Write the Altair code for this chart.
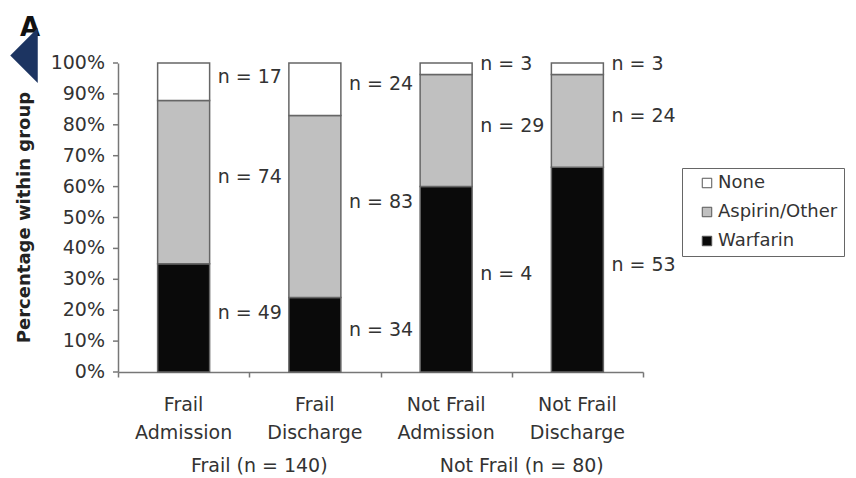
import altair as alt
import pandas as pd

categories = ["Frail Admission", "Frail Discharge", "Not Frail Admission", "Not Frail Discharge"]
warfarin_n = [49, 34, 48, 53]
aspirin_n = [74, 83, 29, 24]
none_n = [17, 24, 3, 3]
warfarin_lbl = ["n = 49", "n = 34", "n = 4", "n = 53"]
aspirin_lbl = ["n = 74", "n = 83", "n = 29", "n = 24"]
none_lbl = ["n = 17", "n = 24", "n = 3", "n = 3"]
series = ["None", "Aspirin/Other", "Warfarin"]
series_colors = ["#ffffff", "#c0c0c0", "#0a0a0a"]
groups = ["Frail (n = 140)", "Not Frail (n = 80)"]
group_anchor = ["Frail Admission", "Not Frail Admission"]
y_ticks = list(range(0, 101, 10))
y_title = ["Percentage within group"]

rows = []
for i, cat in enumerate(categories):
    total = warfarin_n[i] + aspirin_n[i] + none_n[i]
    lo = 0.0
    for s, counts, lbls in [("Warfarin", warfarin_n, warfarin_lbl),
                            ("Aspirin/Other", aspirin_n, aspirin_lbl),
                            ("None", none_n, none_lbl)]:
        pct = counts[i] / total * 100
        rows.append({"cat": cat, "series": s, "lo": round(lo, 3), "hi": round(lo + pct, 3),
                     "mid": round(lo + pct / 2, 3), "lbl": lbls[i]})
        lo += pct
df = pd.DataFrame(rows)
gdf = pd.DataFrame({"group": groups, "anchor": group_anchor})
cdf = pd.DataFrame({"cat": categories,
                    "line1": [c.rsplit(" ", 1)[0] for c in categories],
                    "line2": [c.rsplit(" ", 1)[1] for c in categories]})
tdf = pd.DataFrame({"v": y_ticks, "txt": [f"{v}%" for v in y_ticks]})

W, H = 525, 309
FONT = "DejaVu Sans"
TXT = "#333333"
AX = "#777777"

xscale = alt.Scale(domain=categories, paddingInner=0, paddingOuter=0)
yscale = alt.Scale(domain=[0, 100], nice=False)
xaxis = alt.Axis(labels=False, tickBand="extent", tickSize=5, tickColor=AX,
                 domainColor=AX, domainWidth=1.5, tickWidth=1.5)
yaxis = alt.Axis(labels=False, ticks=False, grid=False, title=None,
                 domainColor=AX, domainWidth=1.5)

bars = alt.Chart(df).mark_bar(width=52, stroke="#666666", strokeWidth=1.5).encode(
    x=alt.X("cat:N", sort=categories, scale=xscale, title=None, axis=xaxis),
    y=alt.Y("lo:Q", scale=yscale, title=None, axis=yaxis),
    y2="hi:Q",
    color=alt.Color("series:N", scale=alt.Scale(domain=series, range=series_colors),
                    legend=alt.Legend(orient="none", legendX=564, legendY=105, title=None,
                                      strokeColor="#666666", padding=6, fillColor="white",
                                      symbolType="square", symbolSize=90,
                                      symbolStrokeColor="#555555", symbolStrokeWidth=1,
                                      labelFontSize=18, labelColor=TXT, rowPadding=11,
                                      symbolOffset=10, labelOffset=2)),
)

labels = alt.Chart(df).mark_text(align="left", baseline="middle", dx=34, dy=-5,
                                 fontSize=19, color=TXT).encode(
    x=alt.X("cat:N", sort=categories, scale=xscale, title=None, axis=xaxis),
    y=alt.Y("mid:Q", scale=yscale, title=None, axis=yaxis),
    text="lbl:N",
)

ytick_marks = alt.Chart(tdf).mark_rule(color=AX, strokeWidth=1.5).encode(
    y=alt.Y("v:Q", scale=yscale, title=None, axis=yaxis),
    x=alt.value(-5), x2=alt.value(0),
)
ytick_labels = alt.Chart(tdf).mark_text(align="right", baseline="middle",
                                        fontSize=19, color=TXT).encode(
    y=alt.Y("v:Q", scale=yscale, title=None, axis=yaxis),
    x=alt.value(-13),
    text="txt:N",
)
ytitle = alt.Chart(pd.DataFrame({"t": y_title})).mark_text(
    angle=270, baseline="middle", fontSize=18, fontWeight="bold",
    color="#222222").encode(
    x=alt.value(-93), y=alt.value(H / 2), text="t:N")

xlab1 = alt.Chart(cdf).mark_text(baseline="middle", fontSize=19, color=TXT).encode(
    x=alt.X("cat:N", sort=categories, scale=xscale, title=None, axis=xaxis),
    y=alt.value(H + 33),
    text="line1:N",
)
xlab2 = alt.Chart(cdf).mark_text(baseline="middle", fontSize=19, color=TXT).encode(
    x=alt.X("cat:N", sort=categories, scale=xscale, title=None, axis=xaxis),
    y=alt.value(H + 61),
    text="line2:N",
)

group_text = alt.Chart(gdf).mark_text(baseline="middle", dx=10, fontSize=19,
                                      color=TXT).encode(
    x=alt.X("anchor:N", sort=categories, scale=xscale, bandPosition=1,
            title=None, axis=xaxis),
    y=alt.value(H + 94),
    text="group:N",
)

letter = alt.Chart(pd.DataFrame({"t": ["A"]})).mark_text(
    fontSize=26, fontWeight="bold", color="#111111").encode(
    x=alt.value(-88), y=alt.value(-35), text="t:N")

triangle = alt.Chart(pd.DataFrame({"t": ["A"]})).mark_point(
    shape="M-0.5,0 L0.5,-1 L0.5,1 Z", size=3025, filled=True,
    color="#1c3461", opacity=1, strokeWidth=0).encode(
    x=alt.value(-94), y=alt.value(-7.5))

chart = alt.layer(bars, labels, ytick_marks, ytick_labels, ytitle, xlab1, xlab2,
                  group_text, letter, triangle).properties(
    width=W, height=H,
    padding={"left": 110, "top": 55, "right": 205, "bottom": 106},
    autosize=alt.AutoSizeParams(type="none"),
).configure(font=FONT, background="white").configure_view(stroke=None)

chart.save("out.html", embed_options={"renderer": "svg", "actions": False})
